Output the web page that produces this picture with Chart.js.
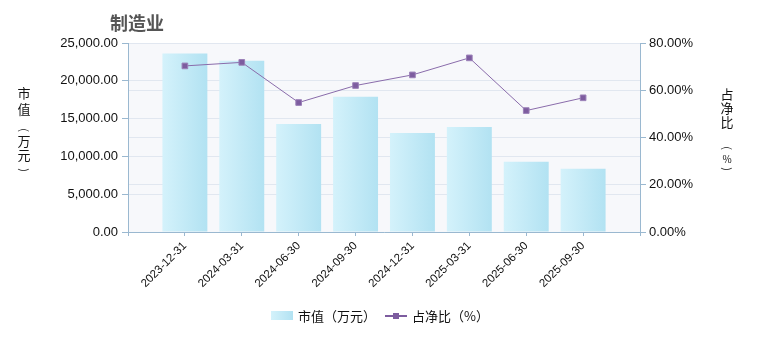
<!DOCTYPE html>
<html>
<head>
<meta charset="utf-8">
<script src="https://cdn.jsdelivr.net/npm/chart.js@4/dist/chart.umd.min.js"></script>
<style>
  html, body { margin: 0; padding: 0; background: #fff; }
  #wrap { width: 760px; height: 340px; }
</style>
</head>
<body>
<div id="wrap"><canvas id="holdingChart"></canvas></div>
<script>
// 报告期
const dates = ['2023-12-31', '2024-03-31', '2024-06-30', '2024-09-30', '2024-12-31', '2025-03-31', '2025-06-30', '2025-09-30'];
// 市值（万元）
const marketValue = [23600, 22650, 14300, 17900, 13100, 13900, 9300, 8350];
// 占净比（%）
const netRatio = [70.3, 71.8, 54.8, 62.0, 66.5, 73.7, 51.4, 56.8];

const leftTicks = [0, 5000, 10000, 15000, 20000, 25000];
const rightTicks = [0, 20, 40, 60, 80];

// blank slots at both ends keep the bars away from the axes
const labels = [''].concat(dates, ['']);
const padded = arr => [null].concat(arr, [null]);

const FONT = '"Liberation Sans", "Noto Sans CJK SC", sans-serif';
const CJK = '"Noto Sans CJK SC", "Liberation Sans", sans-serif';
const AXIS = '#9ab8d0';
const GRID = '#e1e7f0';
const PURPLE = '#7d5c9f';

function barGradient(ctx, x0, x1) {
  const g = ctx.createLinearGradient(x0, 0, x1, 0);
  g.addColorStop(0, '#d4f2fb');
  g.addColorStop(1, '#b2e2f2');
  return g;
}

// vertical axis titles: [char, y centre, rotate?, size]
const leftTitle = [['市', 93, false, 13], ['值', 109, false, 13], ['(', 130, true, 11], ['万', 141, false, 13], ['元', 155, false, 13], [')', 170, true, 11]];
const rightTitle = [['占', 94, false, 13], ['净', 108, false, 13], ['比', 122, false, 13], ['(', 148, true, 11], ['%', 159, false, 10], [')', 169, true, 11]];

function drawVertical(ctx, items, x) {
  ctx.save();
  ctx.fillStyle = '#111';
  ctx.textAlign = 'center';
  ctx.textBaseline = 'middle';
  items.forEach(([ch, y, rot, size]) => {
    ctx.save();
    ctx.translate(x, y);
    if (rot) ctx.rotate(Math.PI / 2);
    ctx.font = size + 'px ' + CJK;
    ctx.fillText(ch, 0, 0);
    ctx.restore();
  });
  ctx.restore();
}

const decor = {
  id: 'decor',
  beforeDraw(chart) {
    const { ctx, chartArea: a } = chart;
    ctx.save();
    ctx.fillStyle = '#f7f8fb';
    ctx.fillRect(a.left, a.top, a.right - a.left, a.bottom - a.top);
    ctx.restore();
  },
  afterDraw(chart) {
    const ctx = chart.ctx;
    drawVertical(ctx, leftTitle, 24);
    drawVertical(ctx, rightTitle, 727);

    ctx.save();
    ctx.textAlign = 'left';
    ctx.textBaseline = 'middle';

    // title
    ctx.font = 'bold 18px ' + CJK;
    ctx.fillStyle = '#555';
    ctx.fillText('制造业', 110, 23);

    // legend
    ctx.fillStyle = barGradient(ctx, 271, 293);
    ctx.fillRect(271, 311, 22, 9);
    ctx.font = '13px ' + CJK;
    ctx.fillStyle = '#111';
    ctx.fillText('市值（万元）', 298, 316);

    ctx.strokeStyle = PURPLE;
    ctx.lineWidth = 2;
    ctx.beginPath();
    ctx.moveTo(385, 316);
    ctx.lineTo(407, 316);
    ctx.stroke();
    ctx.fillStyle = PURPLE;
    ctx.fillRect(393, 313, 6, 6);
    ctx.fillStyle = '#111';
    ctx.fillText('占净比（%）', 412, 316);
    ctx.restore();
  }
};

const fmt = v => v.toLocaleString('en-US', { minimumFractionDigits: 2, maximumFractionDigits: 2 });

const chart = new Chart(document.getElementById('holdingChart'), {
  type: 'bar',
  data: {
    labels: labels,
    datasets: [{
      type: 'line',
      label: '占净比（%）',
      data: padded(netRatio),
      yAxisID: 'y1',
      borderColor: '#8a6cab',
      borderWidth: 1,
      backgroundColor: PURPLE,
      pointStyle: 'rect',
      pointRadius: 4,
      pointBorderWidth: 1,
      pointBorderColor: '#9b80b8',
      pointBackgroundColor: PURPLE,
      tension: 0,
      order: 0
    }, {
      label: '市值（万元）',
      data: padded(marketValue),
      yAxisID: 'y',
      backgroundColor: c => {
        const chart = c.chart;
        if (!chart.chartArea || c.dataIndex === undefined) return '#c4eaf6';
        const x = chart.scales.x.getPixelForValue(c.dataIndex);
        return barGradient(chart.ctx, x - 22.5, x + 22.5);
      },
      borderWidth: 0,
      categoryPercentage: 0.79,
      barPercentage: 1,
      order: 1
    }]
  },
  options: {
    responsive: true,
    maintainAspectRatio: false,
    animation: false,
    layout: { padding: { left: 0, right: 0, top: 43, bottom: 0 } },
    plugins: {
      legend: { display: false },
      tooltip: { enabled: false }
    },
    scales: {
      x: {
        offset: false,
        border: { color: AXIS },
        grid: { offset: false, drawOnChartArea: false, tickColor: AXIS, tickLength: 4 },
        ticks: {
          autoSkip: false,
          minRotation: 45,
          maxRotation: 45,
          padding: 3,
          color: '#111',
          font: { family: FONT, size: 11.5 }
        },
        afterFit: s => { s.height = 108; }
      },
      y: {
        position: 'left',
        min: 0,
        max: 25000,
        border: { color: AXIS },
        grid: { color: GRID, tickColor: AXIS, tickLength: 6 },
        afterBuildTicks: s => { s.ticks = leftTicks.map(v => ({ value: v })); },
        ticks: {
          padding: 4,
          color: '#111',
          font: { family: FONT, size: 13 },
          callback: v => fmt(v)
        },
        afterFit: s => { s.width = 128; }
      },
      y1: {
        position: 'right',
        min: 0,
        max: 80,
        border: { color: AXIS },
        grid: { color: GRID, tickColor: AXIS, tickLength: 6 },
        afterBuildTicks: s => { s.ticks = rightTicks.map(v => ({ value: v })); },
        ticks: {
          padding: 3,
          color: '#111',
          font: { family: FONT, size: 13 },
          callback: v => fmt(v) + '%'
        },
        afterFit: s => { s.width = 120; }
      }
    }
  },
  plugins: [decor]
});
</script>
</body>
</html>
